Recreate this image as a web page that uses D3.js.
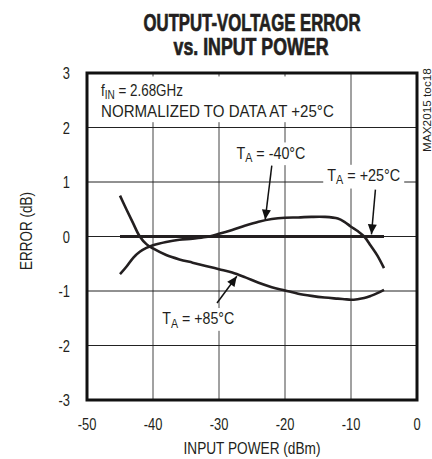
<!DOCTYPE html>
<html><head><meta charset="utf-8">
<script src="https://cdn.jsdelivr.net/npm/d3@7"></script>
<style>
body{margin:0;background:#fff;}
svg{display:block;}
text{font-family:"Liberation Sans",Arial,sans-serif;fill:#231f20;}
</style></head>
<body><svg id="c" width="432" height="459"></svg>
<script>
// Data
const inputPower = [-45,-44,-43,-42,-41,-40,-38,-36,-34,-32,-30,-28,-26,-24,-22,-20,-18,-16,-14,-12,-11,-10,-9,-8,-7,-6,-5];
const errM40 = [-0.69,-0.55,-0.39,-0.28,-0.21,-0.16,-0.10,-0.06,-0.04,-0.01,0.05,0.12,0.20,0.27,0.32,0.345,0.35,0.36,0.36,0.33,0.27,0.18,0.10,0.0,-0.17,-0.35,-0.58];
const errP85 = [0.75,0.49,0.24,0.0,-0.14,-0.22,-0.34,-0.42,-0.48,-0.54,-0.60,-0.66,-0.75,-0.85,-0.93,-0.99,-1.05,-1.09,-1.12,-1.14,-1.15,-1.16,-1.15,-1.13,-1.09,-1.04,-0.98];
const errP25 = inputPower.map(() => 0);
const xTicks = [-50,-40,-30,-20,-10,0];
const yTicks = [-3,-2,-1,0,1,2,3];

const svg = d3.select("#c");
const L=87, R=417, T=73, B=400;
const x = d3.scaleLinear().domain([-50,0]).range([L,R]);
const y = d3.scaleLinear().domain([-3,3]).range([B,T]);

// condensed text helper: parts = [[str, isSub], ...]
function ctext(parent, px, py, parts, o){
  o = o || {};
  const size = o.size || 17;
  const t = parent.append("text").attr("x",0).attr("y",0)
    .attr("text-anchor", o.anchor || "start")
    .style("font-size", size+"px").style("font-weight", o.bold ? "bold" : "normal");
  if (o.stroke) t.attr("stroke","#231f20").attr("stroke-width",o.stroke);
  let sub = false;
  (typeof parts === "string" ? [[parts,false]] : parts).forEach(([s,isSub])=>{
    const ts = t.append("tspan").text(s);
    if (isSub && !sub){ ts.attr("dy", size*0.2).style("font-size",(size*0.75)+"px"); sub = true; }
    else if (!isSub && sub){ ts.attr("dy", -size*0.2); sub = false; }
  });
  const nat = t.node().getComputedTextLength();
  const sx = o.width ? o.width/nat : (o.sx || 0.78);
  t.attr("transform", `translate(${px},${py})${o.rot ? " rotate("+o.rot+")" : ""} scale(${sx},1)`);
  return t;
}
function bgBox(parent, t, pad){
  const r = t.node().getBoundingClientRect();
  const s = svg.node().getBoundingClientRect();
  parent.insert("rect", () => t.node()).attr("fill","#fff")
    .attr("x", r.left - s.left - pad).attr("y", r.top - s.top - 1)
    .attr("width", r.width + 2*pad).attr("height", r.height + 2);
}

// title
ctext(svg, 252, 31, "OUTPUT-VOLTAGE ERROR", {size:23, bold:true, anchor:"middle", width:217, stroke:0.7});
ctext(svg, 251, 55, "vs. INPUT POWER", {size:23, bold:true, anchor:"middle", width:155, stroke:0.7});

// grid
const g = svg.append("g");
g.selectAll(".vg").data(xTicks.slice(1,-1)).join("line")
  .attr("x1",d=>x(d)).attr("x2",d=>x(d)).attr("y1",T).attr("y2",B)
  .attr("stroke","#444").attr("stroke-width",1);
g.selectAll(".hg").data(yTicks.slice(1,-1)).join("line")
  .attr("x1",L).attr("x2",R).attr("y1",d=>y(d)).attr("y2",d=>y(d))
  .attr("stroke","#222").attr("stroke-width",1);

// tick labels
xTicks.forEach(v => ctext(svg, x(v), 430, String(v), {anchor:"middle", sx:0.76}));
yTicks.forEach(v => ctext(svg, 70, y(v)+6, String(v), {anchor:"end", sx:0.76}));

ctext(svg, 252, 454, "INPUT POWER (dBm)", {anchor:"middle", width:137});
ctext(svg, 32, 231, "ERROR (dB)", {anchor:"middle", width:78, rot:-90});
ctext(svg, 431, 110, "MAX2015 toc18", {anchor:"middle", size:10, width:84, rot:-90});

// top-left note
const note = svg.append("g");
const n1 = ctext(note, 101, 96, [["f",false],["IN",true],[" = 2.68GHz",false]], {width:82});
const n2 = ctext(note, 101, 117, "NORMALIZED TO DATA AT +25°C", {width:233});
{
  const a = n1.node().getBoundingClientRect(), b = n2.node().getBoundingClientRect();
  note.insert("rect", ":first-child").attr("fill","#fff")
    .attr("x", 90).attr("y", a.top - 4)
    .attr("width", Math.max(a.right,b.right) - 90 + 5).attr("height", b.bottom - a.top + 6);
}

// curves
const line = d3.line().x(d=>x(d[0])).y(d=>y(d[1])).curve(d3.curveCatmullRom.alpha(0.5));
const series = [
  {vals:errP25, w:3},
  {vals:errM40, w:2.6},
  {vals:errP85, w:2.6}
];
series.forEach(s=>{
  svg.append("path").datum(inputPower.map((p,i)=>[p,s.vals[i]]))
    .attr("d",line).attr("fill","none").attr("stroke","#231f20").attr("stroke-width",s.w)
    .attr("stroke-linejoin","round").attr("stroke-linecap","butt");
});

// series labels
[[-27.35, 1.43, " = -40°C", 69], [-13.6, 1.02, " = +25°C", 73], [-38.6, -1.61, " = +85°C", 72]].forEach(([px,py,s,w])=>{
  const gg = svg.append("g");
  const t = ctext(gg, x(px), y(py), [["T",false],["A",true],[s,false]], {width:w});
  bgBox(gg, t, 4);
});

// arrows
const defs = svg.append("defs");
defs.append("marker").attr("id","ah").attr("viewBox","0 0 10 10").attr("refX",10).attr("refY",5)
  .attr("markerWidth",12).attr("markerHeight",10).attr("markerUnits","userSpaceOnUse").attr("orient","auto")
  .append("path").attr("d","M0,0.5 L10,5 L0,9.5 Z").attr("fill","#111");
function arrow(x1,y1,x2,y2){
  svg.append("line").attr("x1",x(x1)).attr("y1",y(y1)).attr("x2",x(x2)).attr("y2",y(y2))
    .attr("stroke","#111").attr("stroke-width",1.5).attr("marker-end","url(#ah)");
}
arrow(-22.0,1.30,-23.0,0.31);
arrow(-6.3,0.86,-6.9,0.04);
arrow(-30.3,-1.22,-27.3,-0.73);

// frame
svg.append("rect").attr("x",L).attr("y",T).attr("width",R-L).attr("height",B-T)
  .attr("fill","none").attr("stroke","#111").attr("stroke-width",3);
</script></body></html>
